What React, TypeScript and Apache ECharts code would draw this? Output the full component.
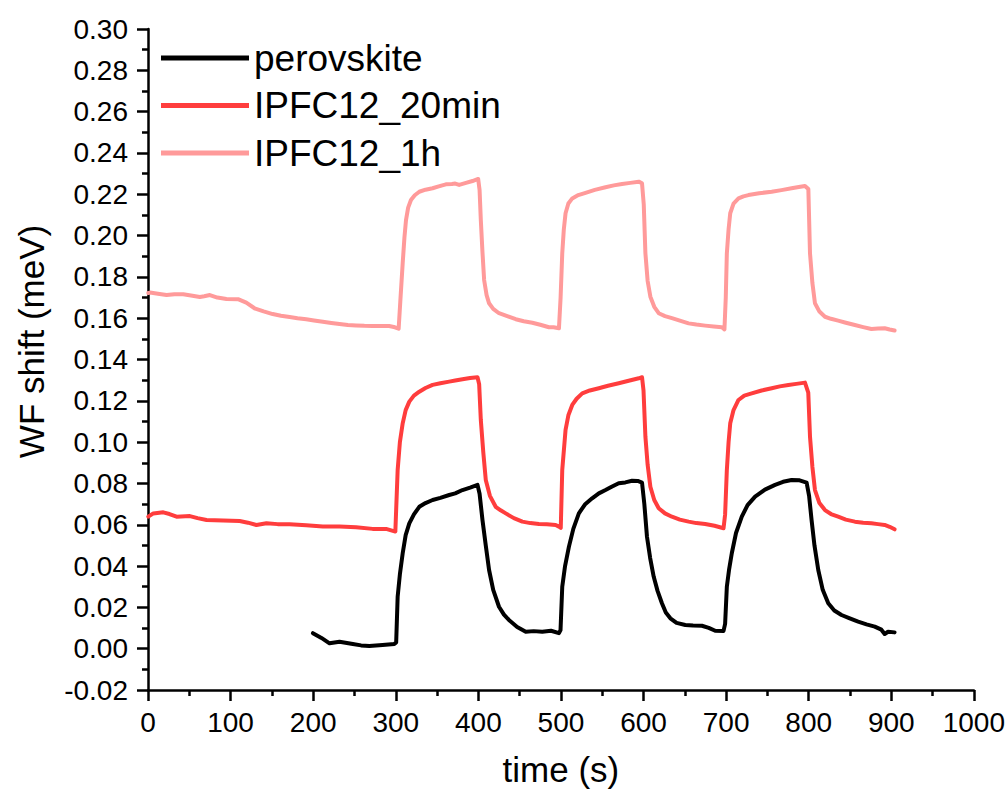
import React, { useEffect, useRef } from "react";
import * as echarts from "echarts";

const seriesNames = ["perovskite", "IPFC12_20min", "IPFC12_1h"];
const seriesColors = ["#000000", "#FF3D3D", "#FF9A9A"];

const xTicks = [0, 100, 200, 300, 400, 500, 600, 700, 800, 900, 1000];

const perovskite: [number, number][] = [
  [199.7, 0.0075], [210, 0.0052], [219.8, 0.0026], [231.9, 0.0034], [248, 0.0023], [258, 0.0016],
  [268, 0.0013], [284, 0.0018], [298.3, 0.0023], [300.5, 0.003], [302.3, 0.0252], [305, 0.036],
  [308.4, 0.0462], [312, 0.055], [316.4, 0.0607], [322, 0.065], [328.5, 0.0687], [336, 0.0705],
  [344.6, 0.072], [354, 0.073], [364.7, 0.0744], [372, 0.0752], [380.8, 0.0768], [390, 0.078],
  [399, 0.0793], [401.5, 0.075], [405, 0.0623], [409, 0.05], [413, 0.0381], [418, 0.0285],
  [425, 0.0203], [431, 0.0165], [437, 0.0139], [447, 0.0105], [457.4, 0.0082], [467, 0.0085],
  [477.4, 0.0082], [488, 0.0087], [497.6, 0.0075], [499.5, 0.009], [501.6, 0.03], [505, 0.04],
  [509.7, 0.0494], [515, 0.058], [521.7, 0.0655], [529, 0.0698], [537.8, 0.0728], [545.9, 0.0752],
  [554, 0.0768], [562, 0.0785], [570, 0.0801], [578, 0.0805], [586.1, 0.0813], [593, 0.0812],
  [598.2, 0.0804], [601, 0.07], [604.2, 0.0542], [608, 0.044], [612.3, 0.0349], [617, 0.028],
  [622.3, 0.022], [627, 0.0175], [632.5, 0.0147], [640, 0.0125], [650.6, 0.0115], [660, 0.0112],
  [670.7, 0.0111], [679, 0.0101], [686.8, 0.0087], [696.9, 0.0086], [698.8, 0.012], [700.9, 0.03],
  [703.5, 0.038], [706.9, 0.0462], [712, 0.056], [719, 0.0639], [726, 0.0695], [735.1, 0.0736],
  [747, 0.077], [759.3, 0.0793], [769, 0.0808], [779.3, 0.0817], [789, 0.0815], [797.5, 0.0804],
  [800.5, 0.074], [803.5, 0.0623], [807, 0.05], [811.6, 0.0381], [817, 0.0285], [823.7, 0.022],
  [831, 0.0185], [839.7, 0.0163], [849, 0.0148], [859.9, 0.0131], [870, 0.0118], [880, 0.0107],
  [888, 0.0092], [892, 0.0071], [896.1, 0.0082], [904, 0.0079],
];

const ipfc20min: [number, number][] = [
  [0.4, 0.0639], [6.4, 0.0655], [18.5, 0.066], [26, 0.0652], [34.6, 0.0639], [50.7, 0.0642],
  [60, 0.0632], [70.9, 0.0623], [91, 0.062], [111, 0.0618], [121, 0.061], [131.3, 0.0599],
  [143.4, 0.0607], [157, 0.0603], [171.5, 0.0602], [191.6, 0.0597], [211.7, 0.0591], [231.9, 0.0591],
  [252, 0.0588], [272, 0.058], [288.3, 0.058], [299.5, 0.0567], [302.3, 0.0865], [305, 0.1],
  [308.4, 0.1091], [312, 0.1155], [316.4, 0.1196], [322, 0.1225], [328.5, 0.1244], [336, 0.1262],
  [344.6, 0.1277], [354, 0.1285], [364.7, 0.1293], [372, 0.1298], [380.8, 0.1304], [390, 0.131],
  [399, 0.1314], [401, 0.128], [403, 0.1107], [406, 0.095], [409, 0.0817], [414, 0.074],
  [421, 0.0687], [427, 0.067], [433.2, 0.0655], [443, 0.0632], [453.3, 0.0615], [463, 0.0608],
  [473.4, 0.0604], [483, 0.0602], [493.6, 0.0599], [497.6, 0.0591], [499.8, 0.0585], [501.6, 0.0865],
  [505.6, 0.1059], [509, 0.113], [513.7, 0.118], [519, 0.121], [525.8, 0.1236], [535, 0.125],
  [545.9, 0.1261], [557, 0.1273], [570, 0.1285], [582, 0.1297], [594.2, 0.1309], [598.2, 0.1314],
  [600, 0.125], [602.3, 0.1026], [605, 0.089], [608.3, 0.0784], [613, 0.072], [618.4, 0.068],
  [626, 0.0655], [634.4, 0.0639], [644, 0.0625], [654.6, 0.0615], [664, 0.0608], [674.7, 0.0604],
  [686, 0.0595], [696.9, 0.0583], [698.8, 0.065], [700.9, 0.0865], [703, 0.1], [705, 0.1091],
  [709, 0.1155], [715, 0.1204], [722, 0.1225], [731, 0.1236], [743, 0.125], [755.2, 0.1261],
  [765, 0.127], [775.4, 0.1277], [785, 0.1282], [795.5, 0.1288], [799.5, 0.124], [801.6, 0.1026],
  [804.5, 0.088], [807.6, 0.0768], [813, 0.0705], [819.7, 0.0671], [827, 0.0652], [835.7, 0.0639],
  [845, 0.0625], [855.9, 0.0615], [866, 0.061], [876, 0.0607], [884, 0.0603], [892, 0.0599],
  [898, 0.059], [904, 0.0578],
];

const ipfc1h: [number, number][] = [
  [0.4, 0.1722], [2.4, 0.1724], [12, 0.1718], [22.5, 0.1712], [32, 0.1716], [42.7, 0.1716],
  [52, 0.171], [62.8, 0.1703], [68, 0.1706], [74.9, 0.1712], [84, 0.17], [95, 0.1693],
  [109, 0.1692], [119, 0.1675], [129, 0.1648], [140, 0.1633], [151, 0.162], [161, 0.1612],
  [171.5, 0.1606], [181, 0.16], [191.6, 0.1595], [201, 0.1589], [211.7, 0.1583], [222, 0.1577],
  [231.9, 0.1572], [242, 0.1567], [252, 0.1565], [262, 0.1563], [272, 0.1562], [282, 0.1562],
  [292, 0.1562], [299, 0.1556], [303.5, 0.1549], [305.5, 0.168], [308.4, 0.1866], [310.5, 0.199],
  [312.4, 0.2075], [315, 0.2135], [318.4, 0.2172], [323, 0.2195], [328.5, 0.2212], [336, 0.2222],
  [344.6, 0.2229], [352, 0.2238], [360.7, 0.2248], [368, 0.225], [372, 0.2252], [376.8, 0.2245],
  [385, 0.2255], [392.9, 0.2264], [399.8, 0.2274], [401.5, 0.222], [403, 0.2075], [405, 0.192],
  [407, 0.1785], [410, 0.1712], [413, 0.1672], [418, 0.1645], [425, 0.1624], [435, 0.161],
  [445.3, 0.1595], [455, 0.1585], [465.4, 0.1578], [475, 0.1568], [485.5, 0.1556], [491, 0.1556],
  [497.6, 0.1551], [499.6, 0.17], [501.6, 0.1914], [503.5, 0.203], [505.6, 0.2108], [509, 0.2155],
  [513.7, 0.218], [521, 0.2196], [529.8, 0.2207], [541, 0.2221], [554, 0.2234], [564, 0.2243],
  [574, 0.225], [584, 0.2255], [594.2, 0.2261], [598.2, 0.2253], [600.3, 0.215], [602.3, 0.1914],
  [605, 0.178], [608.3, 0.1704], [613, 0.1655], [618.4, 0.1624], [626, 0.161], [634.4, 0.16],
  [644, 0.1588], [654.6, 0.1575], [664, 0.1569], [674.7, 0.1564], [685, 0.156], [694.8, 0.1556],
  [698, 0.1546], [699.6, 0.17], [700.9, 0.1914], [703, 0.203], [705, 0.2108], [709, 0.2155],
  [715, 0.218], [721, 0.219], [727, 0.2196], [740, 0.2205], [755.2, 0.2212], [767, 0.222],
  [779.3, 0.2229], [788, 0.2235], [795.5, 0.224], [799.6, 0.2225], [801.6, 0.1914], [804.5, 0.177],
  [807.6, 0.1672], [813, 0.1632], [819.7, 0.1607], [827, 0.1597], [835.7, 0.1588], [845, 0.1578],
  [855.9, 0.1567], [866, 0.1557], [876, 0.1548], [884, 0.155], [892, 0.1551], [898, 0.1545],
  [904, 0.154],
];

const FONT = "'Liberation Sans', Arial, Helvetica, sans-serif";

export default function App() {
  const ref = useRef<HTMLDivElement>(null);
  useEffect(() => {
    if (!ref.current) return;
    const chart = echarts.init(ref.current, null, { renderer: "svg" });
    const datas = [perovskite, ipfc20min, ipfc1h];
    chart.setOption({
      animation: false,
      backgroundColor: "#ffffff",
      grid: { left: 148, right: 32, top: 29, bottom: 109, containLabel: false },
      legend: {
        show: true,
        orient: "vertical",
        left: 156,
        top: 34,
        icon: "rect",
        itemWidth: 88,
        itemHeight: 5,
        itemGap: 9.5,
        data: seriesNames,
        textStyle: { fontFamily: FONT, fontSize: 37, color: "#000", lineHeight: 38 },
      },
      xAxis: {
        type: "value",
        min: xTicks[0],
        max: xTicks[xTicks.length - 1],
        interval: 100,
        name: "time (s)",
        nameLocation: "middle",
        nameGap: 62,
        nameTextStyle: { fontFamily: FONT, fontSize: 35, color: "#000" },
        axisLine: { show: true, onZero: false, lineStyle: { color: "#000", width: 2.5 } },
        axisTick: { show: true, inside: false, length: 11, lineStyle: { color: "#000", width: 2.5 } },
        minorTick: { show: true, splitNumber: 2, length: 6, lineStyle: { color: "#000", width: 2.5 } },
        axisLabel: {
          fontFamily: FONT,
          fontSize: 28,
          color: "#000",
          margin: 18,
          formatter: (v: number) => String(Math.round(v)),
        },
        splitLine: { show: false },
      },
      yAxis: {
        type: "value",
        min: -0.02,
        max: 0.3,
        interval: 0.02,
        name: "WF shift (meV)",
        nameLocation: "middle",
        nameRotate: 90,
        nameGap: 99,
        nameTextStyle: { fontFamily: FONT, fontSize: 35, color: "#000", padding: [0, 0, 0, 36] },
        axisLine: { show: true, onZero: false, lineStyle: { color: "#000", width: 2.5 } },
        axisTick: { show: true, inside: false, length: 11, lineStyle: { color: "#000", width: 2.5 } },
        minorTick: { show: true, splitNumber: 2, length: 6, lineStyle: { color: "#000", width: 2.5 } },
        axisLabel: {
          fontFamily: FONT,
          fontSize: 28,
          color: "#000",
          margin: 20,
          formatter: (v: number) => (Math.abs(v) < 1e-9 ? "0.00" : v.toFixed(2)),
        },
        splitLine: { show: false },
      },
      series: seriesNames.map((name, i) => ({
        name,
        type: "line",
        data: datas[i],
        showSymbol: false,
        symbol: "none",
        color: seriesColors[i],
        lineStyle: { color: seriesColors[i], width: 4, join: "round", cap: "round" },
        z: 3 - i,
      })),
    });
    return () => chart.dispose();
  }, []);
  return (
    <div
      ref={ref}
      style={{ position: "absolute", left: 0, top: 0, width: 1008, height: 799, background: "#fff" }}
    />
  );
}
